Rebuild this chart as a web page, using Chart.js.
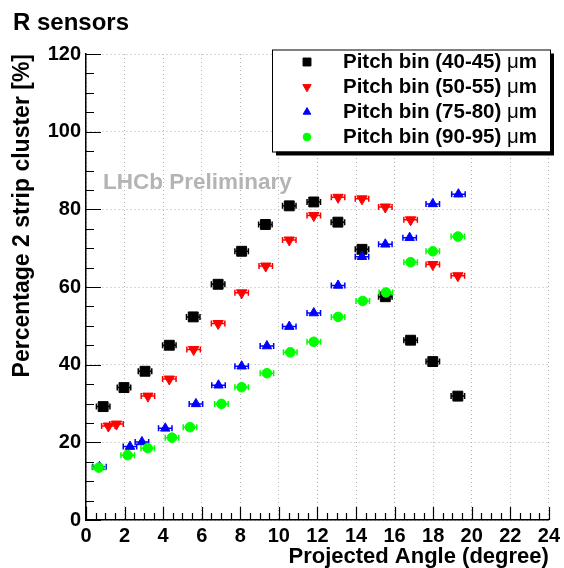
<!DOCTYPE html>
<html>
<head>
<meta charset="utf-8">
<script src="https://cdn.jsdelivr.net/npm/chart.js@4/dist/chart.umd.min.js"></script>
<style>
  html, body { margin: 0; padding: 0; background: #fff; }
  #wrap { width: 564px; height: 568px; position: relative; }
</style>
</head>
<body>
<div id="wrap"><canvas id="chart"></canvas></div>
<script>
  // Data
  const seriesLabels = ['Pitch bin (40-45) μm', 'Pitch bin (50-55) μm', 'Pitch bin (75-80) μm', 'Pitch bin (90-95) μm'];

  const blackX = [0.89, 1.97, 3.06, 4.32, 5.56, 6.85, 8.07, 9.30, 10.54, 11.81, 13.06, 14.31, 15.52, 16.83, 17.98, 19.28];
  const blackY = [29.2, 34.1, 38.3, 45.0, 52.3, 60.7, 69.2, 76.1, 80.9, 81.9, 76.7, 69.7, 57.5, 46.3, 40.8, 31.9];

  const redX = [1.16, 1.58, 3.21, 4.32, 5.58, 6.85, 8.07, 9.32, 10.54, 11.81, 13.07, 14.31, 15.52, 16.83, 17.98, 19.28];
  const redY = [24.2, 24.7, 31.9, 36.3, 43.9, 50.6, 58.5, 65.4, 72.1, 78.4, 83.1, 82.7, 80.6, 77.3, 65.8, 62.9];

  const blueX = [0.70, 2.28, 2.90, 4.11, 5.70, 6.87, 8.07, 9.38, 10.54, 11.81, 13.07, 14.31, 15.52, 16.78, 17.98, 19.31];
  const blueY = [13.7, 18.9, 20.1, 23.6, 29.9, 34.7, 39.6, 44.8, 49.8, 53.3, 60.4, 67.8, 71.0, 72.7, 81.4, 83.9];

  const greenX = [0.66, 2.16, 3.20, 4.46, 5.39, 7.02, 8.07, 9.38, 10.59, 11.81, 13.07, 14.35, 15.55, 16.83, 17.98, 19.28];
  const greenY = [13.5, 16.7, 18.5, 21.2, 23.9, 29.9, 34.2, 37.8, 43.2, 45.9, 52.3, 56.4, 58.6, 66.4, 69.2, 73.0];

  const xErr = 0.35; // horizontal half-width of the error bars

  const FONT = "'Liberation Sans', Arial, Helvetica, sans-serif";

  function pts(xs, ys) {
    return xs.map((x, i) => ({ x: x, y: ys[i] }));
  }

  // horizontal error bars
  const errorBars = {
    id: 'errorBars',
    beforeDatasetsDraw(chart) {
      const ctx = chart.ctx;
      const xs = chart.scales.x, ys = chart.scales.y;
      chart.data.datasets.forEach(ds => {
        ctx.save();
        ctx.strokeStyle = ds.borderColor;
        ctx.lineWidth = 1.5;
        ds.data.forEach(p => {
          const x1 = xs.getPixelForValue(p.x - xErr);
          const x2 = xs.getPixelForValue(p.x + xErr);
          const y = ys.getPixelForValue(p.y);
          ctx.beginPath();
          ctx.moveTo(x1, y); ctx.lineTo(x2, y);
          ctx.moveTo(x1, y - 3); ctx.lineTo(x1, y + 3);
          ctx.moveTo(x2, y - 3); ctx.lineTo(x2, y + 3);
          ctx.stroke();
        });
        ctx.restore();
      });
    }
  };

  // ROOT style inward ticks, title, watermark and legend
  const decorations = {
    id: 'decorations',
    afterDraw(chart) {
      const ctx = chart.ctx;
      const xs = chart.scales.x, ys = chart.scales.y;
      const area = chart.chartArea;
      ctx.save();
      ctx.strokeStyle = '#000';
      ctx.lineWidth = 1.2;
      ctx.beginPath();
      for (let v = 0; v <= 120; v += 5) {
        const y = Math.round(ys.getPixelForValue(v)) + 0.5;
        const len = v % 20 === 0 ? 15 : 8;
        ctx.moveTo(area.left, y); ctx.lineTo(area.left + len, y);
      }
      for (let v = 0; v <= 24; v += 0.5) {
        const x = Math.round(xs.getPixelForValue(v)) + 0.5;
        const len = v % 2 === 0 ? 13 : 7;
        ctx.moveTo(x, area.bottom); ctx.lineTo(x, area.bottom - len);
      }
      ctx.stroke();

      // title
      ctx.fillStyle = '#000';
      ctx.font = 'bold 24px ' + FONT;
      ctx.textBaseline = 'alphabetic';
      ctx.textAlign = 'left';
      ctx.fillText('R sensors', 13, 30);

      // watermark
      ctx.fillStyle = '#b4b4b4';
      ctx.font = 'bold 22.5px ' + FONT;
      ctx.fillText('LHCb Preliminary', 103, 189);

      // legend box with shadow
      const bx = 272, by = 49.5, bw = 278, bh = 102;
      ctx.fillStyle = '#000';
      ctx.fillRect(bx + 4, by + 4, bw, bh);
      ctx.fillStyle = '#fff';
      ctx.fillRect(bx, by, bw, bh);
      ctx.strokeStyle = '#000';
      ctx.lineWidth = 1;
      ctx.strokeRect(bx + 0.5, by + 0.5, bw, bh);

      chart.data.datasets.forEach((ds, i) => {
        const cy = 62 + i * 25;
        if (Chart.helpers && Chart.helpers.drawPoint) {
          ctx.fillStyle = ds.backgroundColor;
          ctx.strokeStyle = ds.borderColor;
          ctx.lineWidth = 1;
          Chart.helpers.drawPoint(ctx, {
            pointStyle: ds.pointStyle,
            rotation: ds.rotation || 0,
            radius: ds.pointRadius * 0.8,
            borderWidth: 1
          }, 307, cy);
        }
        const parts = ds.label.split('μ');
        let tx = 343;
        ctx.fillStyle = '#000';
        ctx.textBaseline = 'middle';
        ctx.font = 'bold 20.5px ' + FONT;
        ctx.fillText(parts[0], tx, cy);
        tx += ctx.measureText(parts[0]).width;
        ctx.font = '20.5px ' + FONT;
        ctx.fillText('μ', tx, cy);
        tx += ctx.measureText('μ').width;
        ctx.font = 'bold 20.5px ' + FONT;
        ctx.fillText(parts[1], tx, cy);
      });
      ctx.restore();
    }
  };

  new Chart(document.getElementById('chart'), {
    type: 'scatter',
    data: {
      datasets: [
        { label: seriesLabels[0], data: pts(blackX, blackY), pointStyle: 'rect', pointRadius: 7,
          backgroundColor: '#000000', borderColor: '#000000', order: 4 },
        { label: seriesLabels[1], data: pts(redX, redY), pointStyle: 'triangle', rotation: 180, pointRadius: 6,
          backgroundColor: '#ff0000', borderColor: '#ff0000', order: 3 },
        { label: seriesLabels[2], data: pts(blueX, blueY), pointStyle: 'triangle', pointRadius: 5.5,
          backgroundColor: '#0000ff', borderColor: '#0000ff', order: 2 },
        { label: seriesLabels[3], data: pts(greenX, greenY), pointStyle: 'circle', pointRadius: 4.8,
          backgroundColor: '#00ff00', borderColor: '#00ff00', order: 1 }
      ]
    },
    options: {
      responsive: true,
      maintainAspectRatio: false,
      animation: false,
      layout: { padding: { top: 54, right: 13, left: 0, bottom: 0 } },
      plugins: {
        legend: { display: false },
        tooltip: { enabled: false }
      },
      elements: { point: { borderWidth: 1, hoverRadius: 6 } },
      scales: {
        x: {
          type: 'linear', min: 0, max: 24,
          afterFit(scale) { scale.height = 48; },
          ticks: { stepSize: 2, color: '#000', padding: 4, maxRotation: 0,
                   font: { family: FONT, size: 20, weight: 'bold' } },
          grid: { color: '#b0b0b0', lineWidth: 1, drawTicks: false },
          border: { display: true, color: '#000', width: 1.5, dash: [1, 3] },
          title: { display: true, text: 'Projected Angle (degree)', align: 'end', color: '#000',
                   padding: { top: 0, bottom: 0 },
                   font: { family: FONT, size: 22, weight: 'bold', lineHeight: 1.0 } }
        },
        y: {
          type: 'linear', min: 0, max: 120,
          afterFit(scale) { scale.width = 86; },
          ticks: { stepSize: 20, color: '#000', padding: 5,
                   font: { family: FONT, size: 20, weight: 'bold' } },
          grid: { color: '#b0b0b0', lineWidth: 1, drawTicks: false },
          border: { display: true, color: '#000', width: 1.5, dash: [1, 3] },
          title: { display: true, text: 'Percentage 2 strip cluster [%]', align: 'end', color: '#000',
                   padding: { top: 11, bottom: 0 },
                   font: { family: FONT, size: 23, weight: 'bold', lineHeight: 1.0 } }
        }
      }
    },
    plugins: [errorBars, decorations]
  });
</script>
</body>
</html>
